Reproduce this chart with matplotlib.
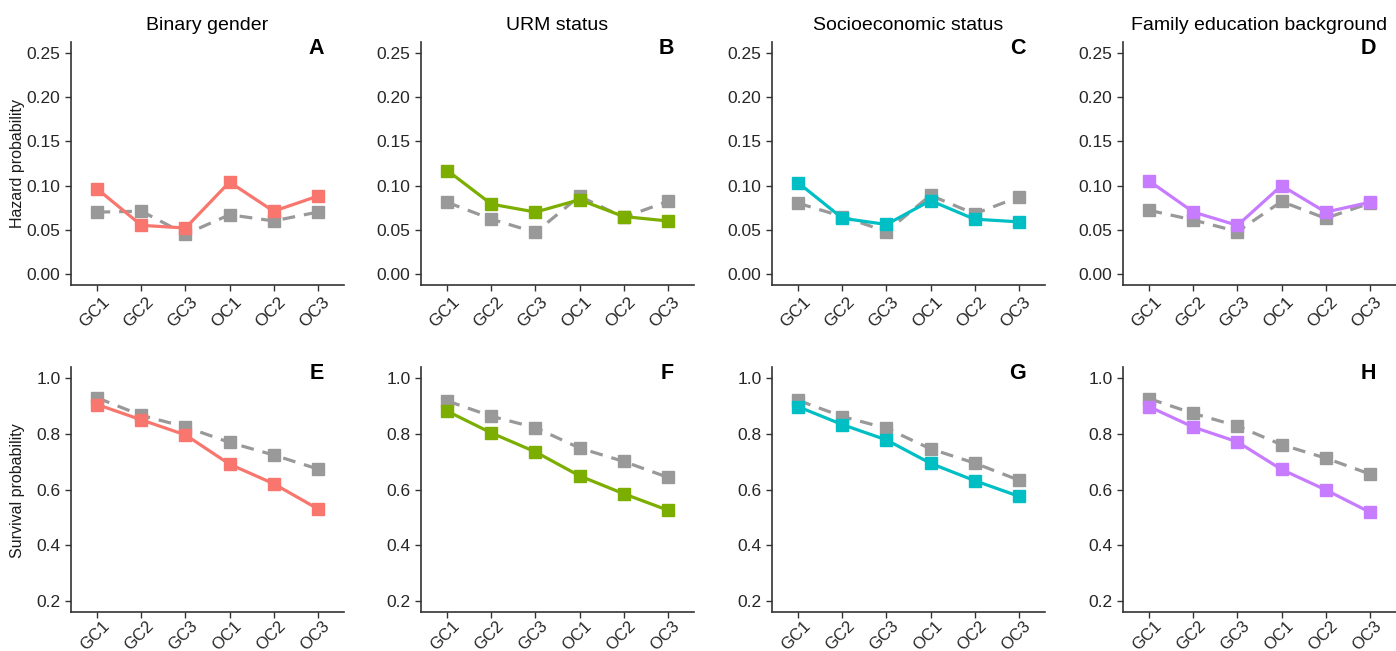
import numpy as np
import matplotlib.pyplot as plt
import matplotlib.transforms as mtransforms

plt.rcParams['font.family'] = ['Liberation Sans', 'DejaVu Sans']

courses = ["GC1", "GC2", "GC3", "OC1", "OC2", "OC3"]
titles = ["Binary gender", "URM status", "Socioeconomic status", "Family education background"]
letters_top = ["A", "B", "C", "D"]
letters_bot = ["E", "F", "G", "H"]
colors = ["#F8766D", "#7CAE00", "#00BFC4", "#C77CFF"]

# hazard probability: focal group (coloured) and comparison group (grey)
haz_gender = [0.096, 0.055, 0.052, 0.104, 0.071, 0.088]
haz_gender_ref = [0.070, 0.071, 0.045, 0.067, 0.060, 0.070]
haz_urm = [0.117, 0.079, 0.070, 0.084, 0.065, 0.060]
haz_urm_ref = [0.081, 0.062, 0.047, 0.088, 0.064, 0.082]
haz_ses = [0.103, 0.063, 0.056, 0.083, 0.062, 0.059]
haz_ses_ref = [0.080, 0.065, 0.048, 0.089, 0.068, 0.087]
haz_fam = [0.105, 0.070, 0.055, 0.100, 0.070, 0.081]
haz_fam_ref = [0.072, 0.061, 0.048, 0.082, 0.063, 0.080]

# survival probability
surv_gender = [0.905, 0.850, 0.796, 0.691, 0.621, 0.531]
surv_gender_ref = [0.929, 0.866, 0.825, 0.769, 0.724, 0.674]
surv_urm = [0.881, 0.803, 0.735, 0.649, 0.585, 0.526]
surv_urm_ref = [0.918, 0.863, 0.822, 0.749, 0.701, 0.644]
surv_ses = [0.897, 0.833, 0.778, 0.694, 0.632, 0.576]
surv_ses_ref = [0.920, 0.862, 0.820, 0.746, 0.695, 0.634]
surv_fam = [0.897, 0.824, 0.771, 0.672, 0.599, 0.519]
surv_fam_ref = [0.926, 0.873, 0.828, 0.761, 0.713, 0.656]

haz = [haz_gender, haz_urm, haz_ses, haz_fam]
haz_ref = [haz_gender_ref, haz_urm_ref, haz_ses_ref, haz_fam_ref]
surv = [surv_gender, surv_urm, surv_ses, surv_fam]
surv_ref = [surv_gender_ref, surv_urm_ref, surv_ses_ref, surv_fam_ref]

W, H = 1396, 651
fig = plt.figure(figsize=(W / 100, H / 100), dpi=100)

lefts = [71, 421, 772, 1123]
axw = 273


def style(ax, yticks, ylim, letter, dy, xsize):
    x = np.arange(len(courses))
    ax.set_xlim(-0.6, 5.6)
    ax.set_ylim(*ylim)
    ax.set_yticks(yticks)
    ax.set_xticks(x)
    ax.set_xticklabels([])
    # rotated course labels, anchored just below each tick
    off = mtransforms.ScaledTranslation(4.5 / 100, -dy / 100, fig.dpi_scale_trans)
    for xi, name in zip(x, courses):
        ax.text(xi, 0, name, transform=ax.get_xaxis_transform() + off,
                rotation=45, ha='right', va='top', rotation_mode='anchor',
                fontsize=xsize, color='#262626')
    for s in ['top', 'right']:
        ax.spines[s].set_visible(False)
    for s in ['left', 'bottom']:
        ax.spines[s].set_color('#333333')
        ax.spines[s].set_linewidth(1.2)
    ax.tick_params(colors='#333333', labelcolor='#262626', length=4, width=1)
    ax.tick_params(axis='y', labelsize=12.5)
    ax.text(0.9, 0.975, letter, transform=ax.transAxes, ha='center', va='center',
            fontsize=15.5, fontweight='bold')


for i in range(4):
    x = np.arange(len(courses))
    # top row: hazard
    ax = fig.add_axes([lefts[i] / W, 1 - 285 / H, axw / W, (285 - 42) / H])
    ax.plot(x, haz_ref[i], color='#999999', lw=2.3, ls='--', dashes=(4, 2.8),
            marker='s', ms=8)
    ax.plot(x, haz[i], color=colors[i], lw=2.3, marker='s', ms=8)
    style(ax, [0, 0.05, 0.10, 0.15, 0.20, 0.25], (-0.0125, 0.2625), letters_top[i], 9, 12.5)
    ax.set_yticklabels(["0.00", "0.05", "0.10", "0.15", "0.20", "0.25"])
    ax.set_title(titles[i], fontsize=14, pad=9)

    # bottom row: survival
    ax = fig.add_axes([lefts[i] / W, 1 - 612 / H, axw / W, (612 - 367) / H])
    ax.plot(x, surv_ref[i], color='#999999', lw=2.3, ls='--', dashes=(4, 2.8),
            marker='s', ms=8)
    ax.plot(x, surv[i], color=colors[i], lw=2.3, marker='s', ms=8)
    style(ax, [0.2, 0.4, 0.6, 0.8, 1.0], (0.16, 1.04), letters_bot[i], 6, 12)

fig.text(18 / W, 1 - 164 / H, "Hazard probability", rotation=90, ha='center', va='center',
         fontsize=11.5, color='#1a1a1a')
fig.text(18 / W, 1 - 491 / H, "Survival probability", rotation=90, ha='center', va='center',
         fontsize=11.5, color='#1a1a1a')

fig.savefig("out.png", dpi=100)
